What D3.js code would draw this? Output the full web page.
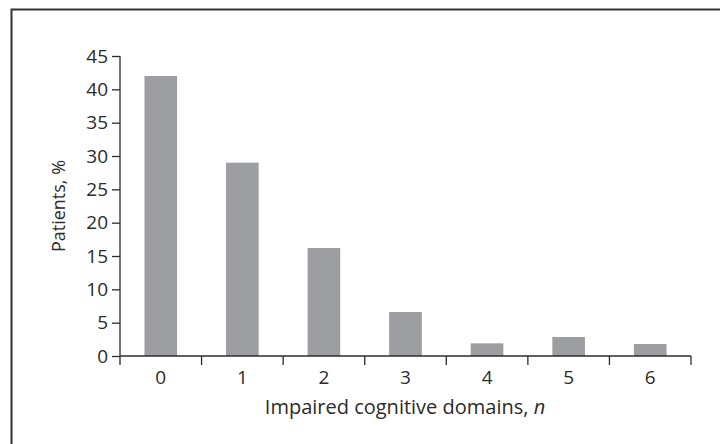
<!DOCTYPE html>
<html>
<head>
<meta charset="utf-8">
<script src="https://cdn.jsdelivr.net/npm/d3@7"></script>
<style>
  body { margin: 0; background: #fff; }
  text { font-family: "Open Sans", "Noto Sans", sans-serif; fill: #2b2b2b; }
</style>
</head>
<body>
<svg id="chart" width="720" height="444"></svg>
<script>
// Impaired cognitive domains (n) vs. share of patients
var domains = ["0", "1", "2", "3", "4", "5", "6"];
var patients = [42, 29, 16.2, 6.6, 1.9, 2.85, 1.8];
var yTicks = [0, 5, 10, 15, 20, 25, 30, 35, 40, 45];

var svg = d3.select("#chart");

// frame (only top and left edges are visible)
svg.append("path")
    .attr("d", "M11.5,450 V9.5 H730")
    .attr("fill", "none")
    .attr("stroke", "#333")
    .attr("stroke-width", 2);

var x = d3.scaleBand().domain(domains).range([120, 691]).paddingInner(0.6).paddingOuter(0.3);
var y = d3.scaleLinear().domain([0, 45]).range([356, 56]);

// bars
svg.append("g")
    .selectAll("rect")
    .data(patients)
    .enter()
    .append("rect")
        .attr("x", function(d, i) { return x(domains[i]); })
        .attr("y", function(d) { return y(d); })
        .attr("width", x.bandwidth())
        .attr("height", function(d) { return y(0) - y(d); })
        .attr("fill", "#9d9ea1");

// y axis
var yAxis = svg.append("g")
    .attr("transform", "translate(120,0)")
    .call(d3.axisLeft(y).tickValues(yTicks).tickSize(8).tickPadding(4));

// x axis: ticks at band edges, labels centered
var edges = d3.range(domains.length + 1).map(function(i) { return 120 + i * (571 / domains.length); });
var xAxis = svg.append("g").attr("transform", "translate(0,356)");
xAxis.append("line")
    .attr("x1", 120).attr("x2", 691)
    .attr("stroke", "#2b2b2b").attr("stroke-width", 1.3);
xAxis.selectAll("line.tk")
    .data(edges)
    .enter()
    .append("line")
        .attr("class", "tk")
        .attr("x1", function(d) { return d; })
        .attr("x2", function(d) { return d; })
        .attr("y1", 0).attr("y2", 9)
        .attr("stroke", "#2b2b2b").attr("stroke-width", 1.3);
xAxis.selectAll("text")
    .data(domains)
    .enter()
    .append("text")
        .attr("x", function(d) { return x(d) + x.bandwidth() / 2; })
        .attr("y", 28)
        .style("text-anchor", "middle")
        .style("font-size", "19px")
        .text(function(d) { return d; });

yAxis.selectAll("path, line").attr("stroke", "#2b2b2b").attr("stroke-width", 1.3);
yAxis.select(".domain").attr("d", "M0,56V356");
yAxis.selectAll("text").style("font-size", "19px").attr("fill", "#2b2b2b");

// axis labels
var xl = svg.append("text")
    .attr("x", 405)
    .attr("y", 414)
    .style("text-anchor", "middle")
    .style("font-size", "20px");
xl.append("tspan").text("Impaired cognitive domains, ");
xl.append("tspan").style("font-style", "italic").text("n");

svg.append("text")
    .attr("transform", "rotate(-90)")
    .attr("x", -206)
    .attr("y", 65)
    .style("text-anchor", "middle")
    .style("font-size", "18px")
    .text("Patients, %");
</script>
</body>
</html>
